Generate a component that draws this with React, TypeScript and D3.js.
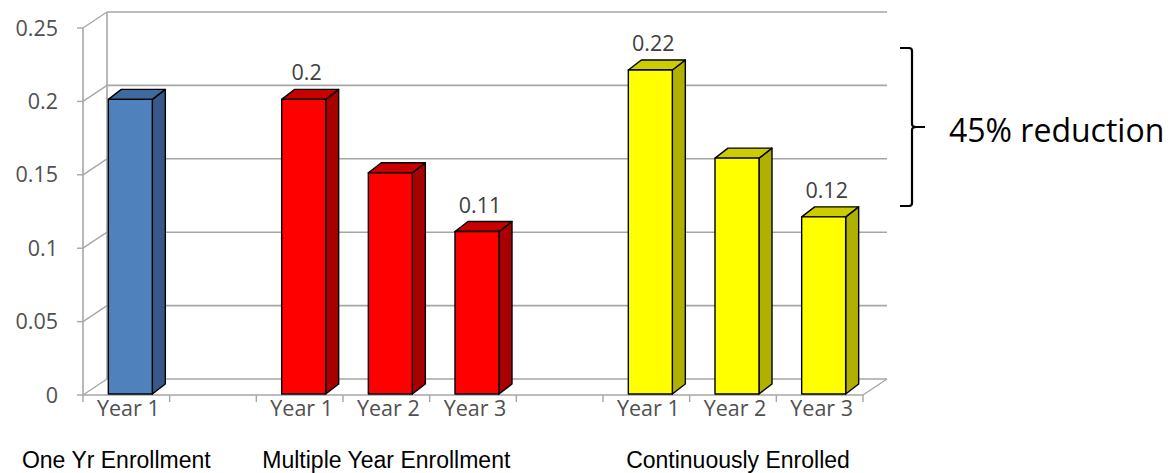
import React, { useEffect, useRef } from "react";
import * as d3 from "d3";

// chart data
const groups = ["One Yr Enrollment", "Multiple Year Enrollment", "Continuously Enrolled"];
const years = ["Year 1", "Year 2", "Year 3"];
const oneYrValues = [0.2];
const multiYearValues = [0.2, 0.15, 0.11];
const continuousValues = [0.22, 0.16, 0.12];
const multiYearLabels = [true, false, true];
const continuousLabels = [true, false, true];
const yTicks = [0, 0.05, 0.1, 0.15, 0.2, 0.25];
const braceText = "45% reduction";

const seriesColors = [
  { front: "#4f81bd", side: "#36598a", top: "#3f6aa0" },
  { front: "#ff0000", side: "#a80000", top: "#c80000" },
  { front: "#ffff00", side: "#b0b000", top: "#cccc00" },
];

const App = () => {
  const ref = useRef<SVGSVGElement | null>(null);

  useEffect(() => {
    const svg = d3.select(ref.current);
    svg.selectAll("*").remove();

    // build slots: one gap between groups
    const groupValues = [oneYrValues, multiYearValues, continuousValues];
    const groupLabels = [[false], multiYearLabels, continuousLabels];
    const slots: any[] = [];
    groupValues.forEach((vals, g) => {
      if (g > 0) slots.push({ id: "gap" + g, gap: true });
      vals.forEach((v, i) => {
        slots.push({ id: g + "-" + i, group: g, year: years[i], value: v, label: groupLabels[g][i] });
      });
    });

    const x = d3.scaleBand().domain(slots.map((s) => s.id)).range([83, 863]).paddingInner(0).paddingOuter(0);
    const y = d3.scaleLinear().domain([0, 0.25]).range([395, 28]);

    const wallDx = 24, wallDy = -16;
    const barDx = 13, barDy = -10;
    const grid = "#a6a6a6";
    const x0 = x.range()[0], x1 = x.range()[1];
    const tickFont = "Open Sans";

    const g = svg.append("g");

    // back wall gridlines + left side wall
    yTicks.forEach((t) => {
      const yy = y(t);
      g.append("line").attr("x1", x0 + wallDx).attr("x2", x1 + wallDx)
        .attr("y1", yy + wallDy).attr("y2", yy + wallDy)
        .attr("stroke", grid).attr("stroke-width", 1.6);
      g.append("line").attr("x1", x0).attr("x2", x0 + wallDx)
        .attr("y1", yy).attr("y2", yy + wallDy)
        .attr("stroke", grid).attr("stroke-width", 1.4);
      g.append("line").attr("x1", x0 - 6).attr("x2", x0).attr("y1", yy).attr("y2", yy)
        .attr("stroke", grid).attr("stroke-width", 1.4);
      g.append("text").attr("x", 58).attr("y", yy).attr("dy", "0.35em")
        .attr("text-anchor", "end").attr("font-family", tickFont).attr("font-size", 21.5)
        .attr("fill", "#505050").text(String(t));
    });
    g.append("line").attr("x1", x0 + wallDx).attr("x2", x0 + wallDx)
      .attr("y1", y(0.25) + wallDy).attr("y2", y(0) + wallDy).attr("stroke", grid).attr("stroke-width", 1.6);
    g.append("line").attr("x1", x0).attr("x2", x0)
      .attr("y1", y(0.25)).attr("y2", y(0)).attr("stroke", grid).attr("stroke-width", 1.6);
    // floor
    g.append("line").attr("x1", x0).attr("x2", x1).attr("y1", y(0)).attr("y2", y(0))
      .attr("stroke", grid).attr("stroke-width", 1.6);
    g.append("line").attr("x1", x1).attr("x2", x1 + wallDx).attr("y1", y(0)).attr("y2", y(0) + wallDy)
      .attr("stroke", grid).attr("stroke-width", 1.4);

    // x ticks at category edges
    slots.forEach((s, i) => {
      const xs = [x(s.id)!];
      if (i === slots.length - 1) xs.push(x(s.id)! + x.bandwidth());
      xs.forEach((xx) => {
        g.append("line").attr("x1", xx).attr("x2", xx).attr("y1", y(0)).attr("y2", y(0) + 7)
          .attr("stroke", grid).attr("stroke-width", 1.4);
      });
    });

    // bars
    const bw = 44;
    const bars = slots.filter((s) => !s.gap);
    bars.forEach((s) => {
      const c = seriesColors[s.group];
      const left = x(s.id)! + (x.bandwidth() - bw) / 2 + 4;
      const right = left + bw;
      const top = y(s.value) - 2;
      const bottom = y(0) - 1;
      const bar = g.append("g").attr("stroke", "#000").attr("stroke-width", 1.4).attr("stroke-linejoin", "round");
      bar.append("path").attr("fill", c.side).attr("d",
        `M${right},${top}L${right + barDx},${top + barDy}L${right + barDx},${bottom + barDy}L${right},${bottom}Z`);
      bar.append("path").attr("fill", c.top).attr("d",
        `M${left},${top}L${left + barDx},${top + barDy}L${right + barDx},${top + barDy}L${right},${top}Z`);
      bar.append("rect").attr("x", left).attr("y", top).attr("width", bw).attr("height", bottom - top)
        .attr("fill", c.front);
      if (s.label) {
        g.append("text").attr("x", left + bw / 2 + 3).attr("y", top + barDy - 9)
          .attr("text-anchor", "middle").attr("font-family", tickFont).attr("font-size", 21.5)
          .attr("fill", "#404040").text(String(s.value));
      }
      g.append("text").attr("x", x(s.id)! + x.bandwidth() / 2 + 2).attr("y", 408).attr("dy", "0.35em")
        .attr("text-anchor", "middle").attr("font-family", tickFont).attr("font-size", 21.5)
        .attr("fill", "#505050").text(s.year);
    });

    // group labels
    groups.forEach((name, gi) => {
      const ids = bars.filter((s) => s.group === gi).map((s) => s.id);
      const cx = (x(ids[0])! + x(ids[ids.length - 1])! + x.bandwidth()) / 2;
      const shift = gi === 0 ? -10 : gi === 2 ? 5 : 0;
      g.append("text").attr("x", cx + shift).attr("y", 467.5)
        .attr("text-anchor", "middle").attr("font-family", "Liberation Sans, Arial").attr("font-size", 23)
        .attr("fill", "#000").text(name);
    });

    // brace annotation (spans Continuously Enrolled year 1 to year 3)
    const bTop = 48, bBot = 206, bx = 912, bMid = (bTop + bBot) / 2;
    g.append("path").attr("fill", "none").attr("stroke", "#000").attr("stroke-width", 2.2)
      .attr("d", `M900,${bTop}L${bx - 3},${bTop}Q${bx},${bTop} ${bx},${bTop + 3}L${bx},${bMid - 3}Q${bx},${bMid} ${bx + 4},${bMid}L${bx + 13},${bMid}M${bx + 4},${bMid}Q${bx},${bMid} ${bx},${bMid + 3}L${bx},${bBot - 3}Q${bx},${bBot} ${bx - 3},${bBot}L900,${bBot}`);
    g.append("text").attr("x", 949).attr("y", 131).attr("dy", "0.35em")
      .attr("font-family", "Open Sans").attr("font-size", 32).attr("fill", "#000").text(braceText);
  }, []);

  return (
    <svg ref={ref} width={1176} height={473}
      style={{ position: "absolute", left: 0, top: 0, background: "#fff" }} />
  );
};

export default App;
